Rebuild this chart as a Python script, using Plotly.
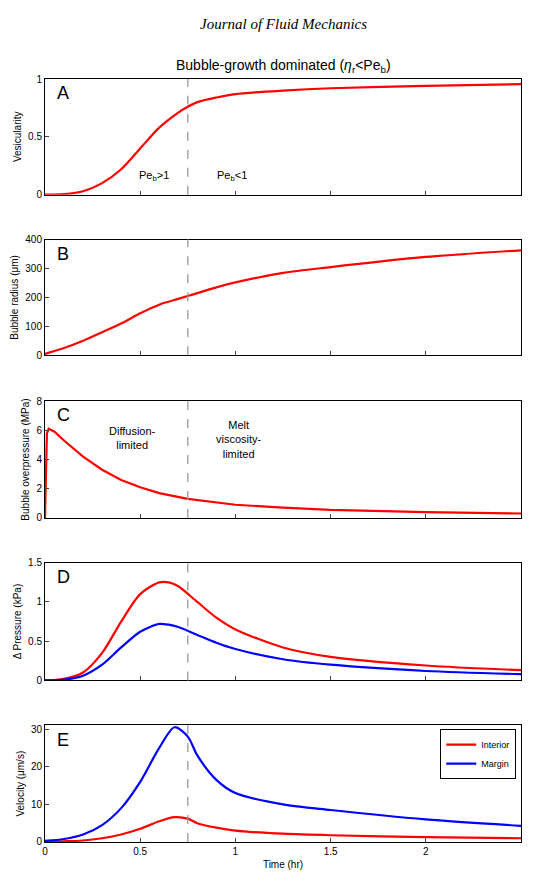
import plotly.graph_objects as go
from plotly.subplots import make_subplots

# panel A - vesicularity
ta = [0, 0.1, 0.2, 0.3, 0.4, 0.5, 0.6, 0.7, 0.75, 0.8, 0.9, 1.0, 1.25, 1.5, 2.0, 2.5]
ves = [0, 0.005, 0.03, 0.1, 0.22, 0.4, 0.58, 0.71, 0.76, 0.8, 0.84, 0.87, 0.9, 0.92, 0.94, 0.955]
# panel B - bubble radius (um)
rad = [5, 25, 50, 80, 110, 145, 175, 195, 205, 215, 235, 252, 285, 305, 340, 363]
# panel C - overpressure (MPa)
tc = [0, 0.01, 0.02, 0.05, 0.1, 0.2, 0.3, 0.4, 0.5, 0.6, 0.75, 1.0, 1.25, 1.5, 2.0, 2.5]
overp = [0, 5.8, 6.1, 5.9, 5.3, 4.2, 3.3, 2.6, 2.1, 1.7, 1.3, 0.9, 0.7, 0.55, 0.4, 0.3]
# panel D - delta pressure (kPa)
td = [0, 0.1, 0.2, 0.3, 0.4, 0.5, 0.6, 0.65, 0.7, 0.8, 0.9, 1.0, 1.25, 1.5, 2.0, 2.5]
dp_int = [0, 0.02, 0.1, 0.35, 0.75, 1.1, 1.25, 1.25, 1.2, 1.0, 0.8, 0.65, 0.42, 0.3, 0.19, 0.13]
dp_mar = [0, 0.01, 0.06, 0.2, 0.42, 0.62, 0.72, 0.71, 0.68, 0.58, 0.48, 0.4, 0.27, 0.2, 0.12, 0.08]
# panel E - velocity (um/s)
te = [0, 0.1, 0.2, 0.3, 0.4, 0.5, 0.6, 0.68, 0.75, 0.8, 0.9, 1.0, 1.25, 1.5, 2.0, 2.5]
v_int = [0.1, 0.2, 0.4, 1, 2, 3.5, 5.5, 6.6, 6.2, 5, 3.8, 3, 2.2, 1.8, 1.3, 1.0]
v_mar = [0.3, 0.8, 2, 4.5, 9, 16, 25, 30.5, 28, 23, 16.5, 13, 10, 8.5, 6, 4.3]

t_peb = 0.75
RED, BLUE = "#ff0000", "#0000ff"

fig = make_subplots(rows=5, cols=1)
line = dict(width=2.2, shape="spline", smoothing=0.8)
fig.add_trace(go.Scatter(x=ta, y=ves, mode="lines", line=dict(color=RED, **line), showlegend=False), 1, 1)
fig.add_trace(go.Scatter(x=ta, y=rad, mode="lines", line=dict(color=RED, **line), showlegend=False), 2, 1)
fig.add_trace(go.Scatter(x=tc, y=overp, mode="lines", line=dict(color=RED, width=2.2), showlegend=False), 3, 1)
fig.add_trace(go.Scatter(x=td, y=dp_int, mode="lines", line=dict(color=RED, **line), showlegend=False), 4, 1)
fig.add_trace(go.Scatter(x=td, y=dp_mar, mode="lines", line=dict(color=BLUE, **line), showlegend=False), 4, 1)
fig.add_trace(go.Scatter(x=te, y=v_int, mode="lines", name="Interior", line=dict(color=RED, **line)), 5, 1)
fig.add_trace(go.Scatter(x=te, y=v_mar, mode="lines", name="Margin", line=dict(color=BLUE, **line)), 5, 1)

doms = [(0.8484, 1), (0.6379, 0.7895), (0.4248, 0.5778), (0.2118, 0.3660), (0, 0.1529)]
yr = [(0, 1), (0, 400), (0, 8), (0, 1.5), (0, 31)]
ydt = [0.5, 100, 2, 0.5, 10]
ytitles = ["Vesicularity", "Bubble radius (μm)", "Bubble overpressure (MPa)",
           "Δ Pressure (kPa)", "Velocity (μm/s)"]
letters = ["A", "B", "C", "D", "E"]
ax = dict(showline=True, mirror=True, linecolor="black", linewidth=1, ticks="inside",
          ticklen=4, showgrid=False, zeroline=False, tickfont=dict(size=10))
for i in range(5):
    r = i + 1
    fig.update_yaxes(domain=list(doms[i]), range=list(yr[i]), dtick=ydt[i],
                     title=dict(text=ytitles[i], font=dict(size=10), standoff=4), row=r, col=1, **ax)
    fig.update_xaxes(range=[0, 2.5], dtick=0.5, showticklabels=(r == 5), row=r, col=1, **ax)
    fig.add_vline(x=t_peb, line=dict(color="#999999", dash="dash", width=1.3), row=r, col=1)
    fig.add_annotation(x=0.02, y=0.98, xref="x%s domain" % ("" if r == 1 else r),
                       yref="y%s domain" % ("" if r == 1 else r), text=letters[i],
                       showarrow=False, xanchor="left", yanchor="top", font=dict(size=18))
fig.update_xaxes(title=dict(text="Time (hr)", font=dict(size=10), standoff=4), row=5, col=1)

txt = dict(showarrow=False, font=dict(size=11, color="black"))
fig.add_annotation(x=0.57, y=0.16, xref="x", yref="y", text="Pe<sub>b</sub>>1", **txt)
fig.add_annotation(x=0.98, y=0.16, xref="x", yref="y", text="Pe<sub>b</sub><1", **txt)
fig.add_annotation(x=0.46, y=5.5, xref="x3", yref="y3", text="Diffusion-<br>limited", **txt)
fig.add_annotation(x=1.02, y=5.4, xref="x3", yref="y3", text="Melt<br>viscosity-<br>limited", **txt)
fig.add_annotation(x=0.5, y=1.085, xref="paper", yref="paper", text="<i>Journal of Fluid Mechanics</i>",
                   showarrow=False, font=dict(size=15, family="Liberation Serif"))
fig.add_annotation(x=0.5, y=1.031, xref="paper", yref="paper",
                   text="Bubble-growth dominated (<i>η</i><sub>r</sub><Pe<sub>b</sub>)",
                   showarrow=False, font=dict(size=14))

fig.update_layout(width=520, height=866, margin=dict(l=34, r=6, t=71, b=30),
                  plot_bgcolor="white", paper_bgcolor="white",
                  font=dict(family="Liberation Sans", color="black"),
                  legend=dict(x=0.99, y=0.148, xanchor="right", yanchor="top",
                              bordercolor="black", borderwidth=1, font=dict(size=9),
                              bgcolor="white", tracegroupgap=0, itemwidth=30))
fig.write_html("out.html")
